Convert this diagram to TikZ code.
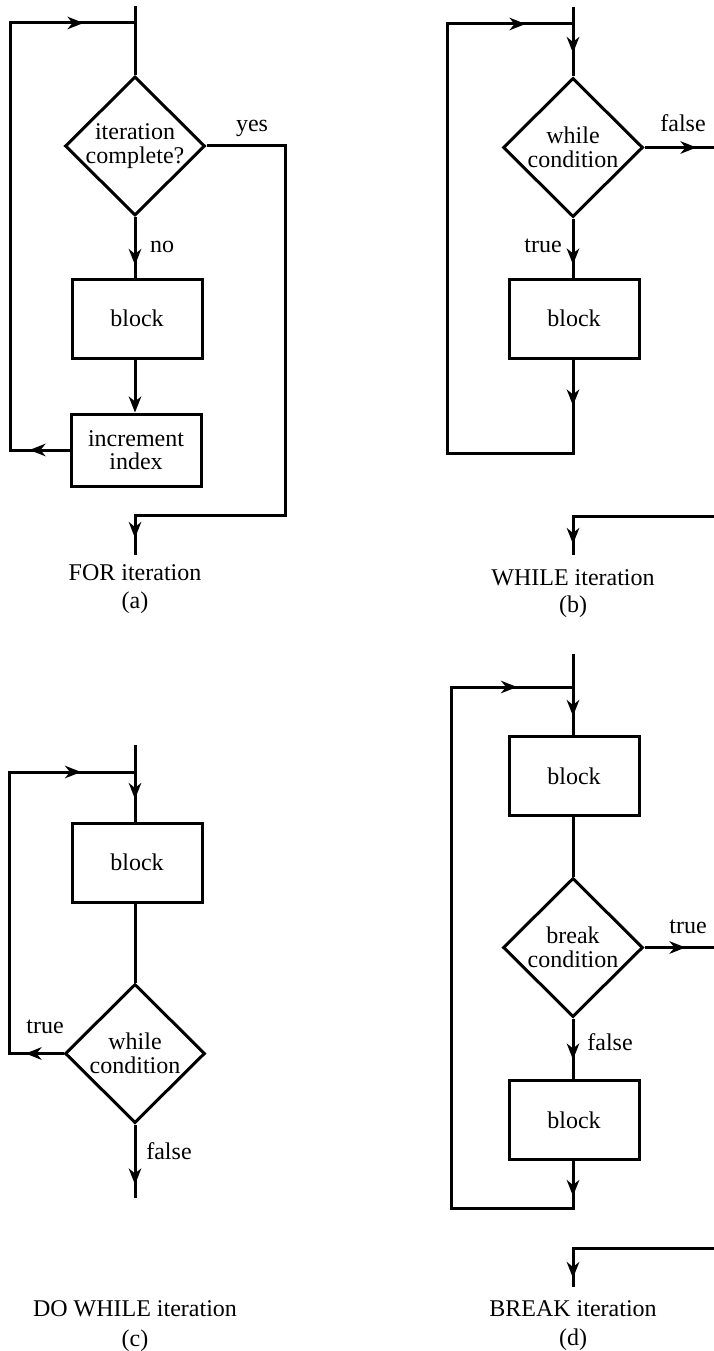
\documentclass[tikz,border=0pt]{standalone}
\usepackage{fontspec}
\setmainfont{Liberation Serif}
\usetikzlibrary{arrows.meta,decorations.markings,shapes.geometric}
\tikzset{
  >={Stealth[length=16pt,width=12.5pt,inset=5pt]},
  every node/.style={font=\fontsize{24}{23.5}\selectfont},
  line/.style={line width=3pt},
  box/.style={draw, rectangle, line width=3pt, minimum width=130pt, minimum height=79pt, inner sep=0pt, align=center},
  dia/.style={draw, diamond, line width=3pt, minimum width=140pt, minimum height=139pt, inner sep=0pt},
  txt/.style={inner sep=0pt, align=center},
  lbl/.style={inner sep=0pt, anchor=base},
  ar/.style={postaction={decorate,decoration={markings,mark=at position #1 with {\arrow{>}}}}}
}
\begin{document}
\begin{tikzpicture}[x=1pt,y=-1pt]
\useasboundingbox (0,0) rectangle (714,1351);

% ---------- (a) FOR ----------
\coordinate (a0) at (135,6);
\coordinate (aJ) at (135,23);
\coordinate (aLt) at (10,23);
\node[dia] (ad) at (135,146) {};
\node[txt] (adt) at (ad) {iteration\\complete?};
\node[box] (ab) at (137,318.5) {block};
\node[box, minimum height=72pt] (ai) at (136,450) {increment\\index};
\coordinate (aR) at (285,146);
\coordinate (aRb) at (285,515);
\coordinate (aE) at (135,555);
\draw[line] (a0) -- (ad.north);
\draw[line, ar=48pt] (ad.south) -- (ad.south |- ab.north);
\draw[line, ->] (ad.south |- ab.south) -- (ad.south |- ai.north);
\draw[line, ar=40pt, ar=560pt] (ai.west) -| (aLt) -- (aJ);
\draw[line, ar=-17pt] (ad.east) -- (aR) -- (aRb) -| (aE);
\node[lbl] (ayes) at (252,132) {yes};
\node[lbl] (ano) at (162,252) {no};
\node[lbl] (acap) at (135,580) {FOR iteration};
\node[lbl] (acapl) at (135,608) {(a)};

% ---------- (b) WHILE ----------
\coordinate (b0) at (573,7);
\coordinate (bJ) at (573,24);
\coordinate (bLt) at (447,24);
\node[dia] (bd) at (573,147.5) {};
\node[txt] (bdt) at (bd) {while\\condition};
\node[box] (bb) at (574,318.5) {block};
\coordinate (bLb) at (447,453);
\coordinate (bF) at (714,147.5);
\coordinate (bX) at (714,516);
\coordinate (bE) at (573,555);
\draw[line, ar=46pt] (b0) -- (bd.north);
\draw[line, ar=46pt] (bd.south) -- (bd.south |- bb.north);
\draw[line, ar=46pt, ar=727pt] (bd.south |- bb.south) |- (bLb) -- (bLt) -- (bJ);
\draw[line, ar=52pt] (bd.east) -- (bF);
\draw[line, ar=-11pt] (bX) -| (bE);
\node[lbl] (btrue) at (543,252) {true};
\node[lbl] (bfalse) at (683,132) {false};
\node[lbl] (bcap) at (573,585) {WHILE iteration};
\node[lbl] (bcapl) at (573,612) {(b)};

% ---------- (c) DO WHILE ----------
\coordinate (c0) at (135,745);
\coordinate (cJ) at (135,772);
\coordinate (cLt) at (9,772);
\node[box] (cb) at (137,862.5) {block};
\node[dia] (cd) at (135,1053.5) {};
\node[txt] (cdt) at (cd) {while\\condition};
\coordinate (cE) at (135,1198);
\draw[line, ar=54pt] (c0) -- (c0 |- cb.north);
\draw[line] (c0 |- cb.south) -- (cd.north);
\draw[line, ar=38pt, ar=408pt] (cd.west) -| (cLt) -- (cJ);
\draw[line, ar=60pt] (cd.south) -- (cE);
\node[lbl] (ctrue) at (45,1033) {true};
\node[lbl] (cfalse) at (169,1159) {false};
\node[lbl] (ccap) at (135,1316) {DO WHILE iteration};
\node[lbl] (ccapl) at (135,1346) {(c)};

% ---------- (d) BREAK ----------
\coordinate (d0) at (573,654);
\coordinate (dJ) at (573,687);
\coordinate (dLt) at (451,687);
\node[box] (db1) at (574,776) {block};
\node[dia] (dd) at (573,947.5) {};
\node[txt] (ddt) at (dd) {break\\condition};
\node[box] (db2) at (574,1120) {block};
\coordinate (dLb) at (451,1208);
\coordinate (dT) at (714,947.5);
\coordinate (dX) at (714,1248);
\coordinate (dE) at (573,1287);
\draw[line, ar=62pt] (d0) -- (d0 |- db1.north);
\draw[line] (d0 |- db1.south) -- (dd.north);
\draw[line, ar=41pt] (dd.east) -- (dT);
\draw[line, ar=41pt] (dd.south) -- (dd.south |- db2.north);
\draw[line, ar=35pt, ar=756pt] (dd.south |- db2.south) |- (dLb) -- (dLt) -- (dJ);
\draw[line, ar=-9pt] (dX) -| (dE);
\node[lbl] (dtrue) at (688,933) {true};
\node[lbl] (dfalse) at (610,1050) {false};
\node[lbl] (dcap) at (573,1316) {BREAK iteration};
\node[lbl] (dcapl) at (573,1345) {(d)};
\end{tikzpicture}
\end{document}
